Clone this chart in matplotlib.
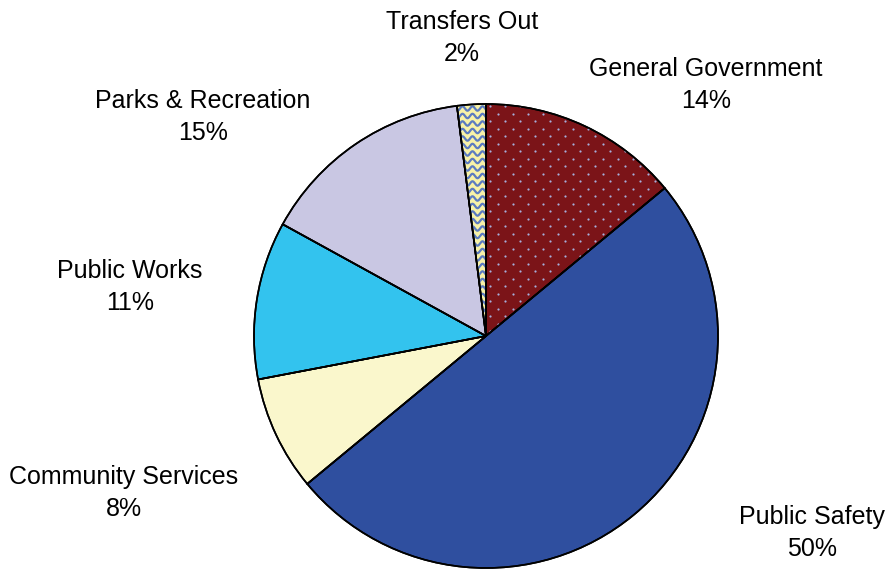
import numpy as np
import matplotlib.pyplot as plt

# data
categories = ['General Government', 'Public Safety', 'Community Services',
              'Public Works', 'Parks & Recreation', 'Transfers Out']
shares = [14, 50, 8, 11, 15, 2]
colors = ['#7b1418', '#2f4f9f', '#faf7cc', '#33c3ee', '#c9c7e3', '#f7f2a8']

# label positions (pixels from top-left), layout only
label_pos = [(706, 85), (812, 533), (124, 493), (130, 287), (203, 117), (462, 38)]

fig = plt.figure(figsize=(8.88, 5.69), dpi=100)
ax = fig.add_axes([0, 0, 1, 1])

cx, cy, r = 486, -336, 232
wedges, _ = ax.pie(shares, colors=colors, startangle=90, counterclock=False,
                   center=(cx, cy), radius=r, frame=True,
                   wedgeprops=dict(edgecolor='black', linewidth=1.2))
ax.set_xlim(0, 888)
ax.set_ylim(-569, 0)
ax.set_aspect('equal')
ax.axis('off')

# dotted pattern on General Government
gg = wedges[0]
pts = []
for j, yy in enumerate(np.arange(cy - 10, cy + r + 10, 7.5)):
    off = 7.5 if j % 2 else 0
    for xx in np.arange(cx + off, cx + r + 10, 15):
        pts.append((xx + 4, yy))
pts = np.array(pts)
dots = ax.scatter(pts[:, 0], pts[:, 1], s=2.5, color='#a7b0dc', linewidths=0, zorder=3)
dots.set_clip_path(gg)

# wavy pattern on Transfers Out
tr = wedges[5]
xs = np.linspace(cx - 40, cx + 5, 200)
for yy in np.arange(cy - 5, cy + r + 10, 7.5):
    ln, = ax.plot(xs, yy + 2.2 * np.sin(2 * np.pi * xs / 10.0), color='#5b7bc0',
                  lw=1.6, zorder=3)
    ln.set_clip_path(tr)

# outlines on top
for w in wedges:
    ax.add_patch(plt.matplotlib.patches.Wedge(w.center, w.r, w.theta1, w.theta2,
                                               fill=False, edgecolor='black',
                                               linewidth=1.2, zorder=4))

for name, pct, (lx, ly) in zip(categories, shares, label_pos):
    ax.text(lx, -ly, f'{name}\n{pct}%', ha='center', va='center',
            fontsize=18, family='Liberation Sans', linespacing=1.4)

fig.savefig('out.png', dpi=100)
